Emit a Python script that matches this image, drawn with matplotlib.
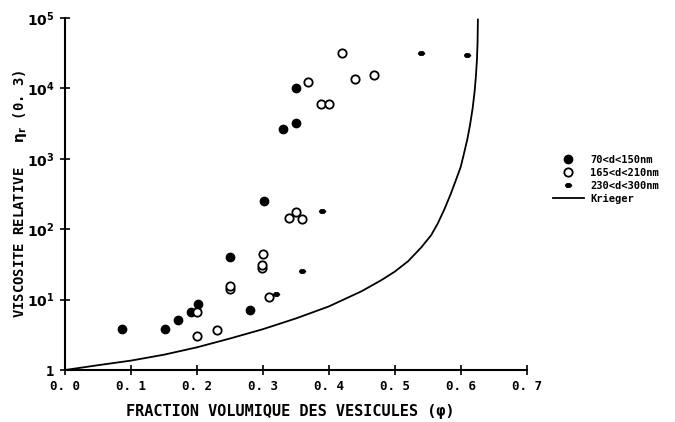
import numpy as np
import matplotlib
matplotlib.use("Agg")
import matplotlib.pyplot as plt

# data
phi_small = [0.086, 0.152, 0.171, 0.191, 0.201, 0.250, 0.280, 0.301, 0.330, 0.350, 0.350]
eta_small = [3.8, 3.8, 5.2, 6.6, 8.6, 40, 7.2, 250, 2650, 3250, 10100]

phi_mid = [0.200, 0.200, 0.230, 0.250, 0.250, 0.299, 0.299, 0.300, 0.310,
           0.340, 0.350, 0.360, 0.369, 0.388, 0.400, 0.420, 0.440, 0.469]
eta_mid = [6.7, 3.0, 3.7, 14, 15.5, 28, 31, 45, 10.9,
           143, 174, 140, 12200, 6000, 6000, 32100, 13600, 15500]

phi_big = [0.320, 0.360, 0.390, 0.539, 0.610]
eta_big = [12, 25.7, 183, 32100, 29700]

# Krieger curve, points
phi_krieger = [0.0, 0.05, 0.1, 0.15, 0.2, 0.25, 0.3, 0.35, 0.4, 0.45, 0.48,
               0.5, 0.52, 0.54, 0.555, 0.565, 0.575, 0.585, 0.592, 0.6,
               0.605, 0.61, 0.614, 0.618, 0.621, 0.623, 0.6245, 0.6255, 0.626]
eta_krieger = [1.0, 1.17, 1.36, 1.65, 2.1, 2.8, 3.8, 5.4, 8.0, 13.2, 19,
               25, 35, 55, 82, 120, 190, 320, 480, 770,
               1200, 1900, 3000, 5200, 9000, 15000, 25000, 45000, 95000]

xticks = [0.0, 0.1, 0.2, 0.3, 0.4, 0.5, 0.6, 0.7]
xticklabels = ["0. 0", "0. 1", "0. 2", "0. 3", "0. 4", "0. 5", "0. 6", "0. 7"]
yticks = [1, 10, 100, 1000, 10000, 100000]
yticklabels = ["1", "$10^1$", "$10^2$", "$10^3$", "$10^4$", "$10^5$"]

plt.rcParams["font.family"] = ["DejaVu Sans Mono", "DejaVu Sans"]
plt.rcParams["font.weight"] = "bold"
plt.rcParams["mathtext.default"] = "bf"

fig = plt.figure(figsize=(6.75, 4.22), dpi=100)
ax = fig.add_axes([0.0963, 0.1232, 0.684, 0.834])

blob = [(-1, 0), (-0.5, 0.55), (0.5, 0.55), (1, 0), (0.5, -0.55), (-0.5, -0.55), (-1, 0)]

ax.plot(phi_small, eta_small, "o", color="black", ms=6, label="70<d<150nm")
ax.plot(phi_mid, eta_mid, "o", mfc="white", mec="black", mew=1.3, ms=6,
        label="165<d<210nm")
ax.plot(phi_big, eta_big, marker=blob, ls="none", color="black", ms=4.5,
        label="230<d<300nm")
ax.plot(phi_krieger, eta_krieger, "-", color="black", lw=1.3, label="Krieger")

ax.set_yscale("log")
ax.set_xlim(0, 0.7)
ax.set_ylim(1, 1e5)
ax.set_xticks(xticks)
ax.set_xticklabels(xticklabels, fontsize=9)
ax.set_yticks(yticks)
ax.set_yticklabels(yticklabels, fontsize=10)
ax.minorticks_off()
ax.tick_params(direction="inout", length=7, width=1.2, pad=4)
for s in ["top", "right"]:
    ax.spines[s].set_visible(False)
for s in ["left", "bottom"]:
    ax.spines[s].set_linewidth(1.5)

fig.text(0.43, 0.008, "FRACTION VOLUMIQUE DES VESICULES (\u03c6)", ha="center",
         va="bottom", fontsize=11)
fig.text(0.03, 0.54, "VISCOSITE RELATIVE   $\\eta_r$ (0. 3)", rotation=90,
         ha="center", va="center", fontsize=10)

ax.legend(loc="center left", bbox_to_anchor=(0.805, 0.575),
          bbox_transform=fig.transFigure, frameon=False, fontsize=7.5,
          handlelength=3, labelspacing=0.3, handletextpad=0.6)

fig.savefig("out.png", dpi=100)
